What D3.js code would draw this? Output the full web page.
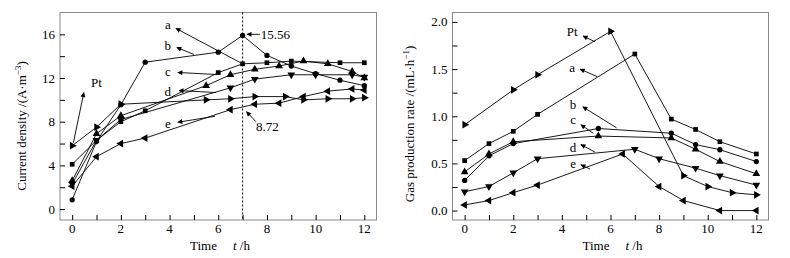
<!DOCTYPE html>
<html>
<head>
<meta charset="utf-8">
<script src="https://cdn.jsdelivr.net/npm/d3@7"></script>
<style>
  body { margin: 0; background: #fff; }
  svg text { font-family: "Liberation Serif", "Times New Roman", Times, serif; font-size: 13px; fill: #000; }
</style>
</head>
<body>
<div id="chart"></div>
<script>
// ---- data: [time (h), value] ----
// current density, A·m-3 (left panel)
const cdPt = [[0,5.8],[1,7.5],[2,9.6],[5.5,10.0],[6.5,10.1],[7.5,10.3],[8.75,10.3],[9.5,10.0],[10.5,10.1],[11.5,10.1],[12,10.2]];
const cdA  = [[0,4.1],[1,6.3],[2,8.0],[3,9.0],[6,12.5],[7,13.3],[8,13.4],[9,13.55],[11,13.4],[12,13.4]];
const cdB  = [[0,0.85],[1,6.2],[2,9.56],[3,13.45],[6,14.37],[7,15.9],[8,14.07],[9,13.1],[10,12.4],[11,11.8],[12,11.3]];
const cdC  = [[0,2.6],[1,6.9],[2,8.55],[5.5,11.3],[6.5,12.3],[7.5,12.8],[8.5,13.1],[9.5,13.55],[10.5,13.3],[11.5,12.6],[12,12.0]];
const cdD  = [[0,2.3],[1,6.3],[2,8.2],[6.5,11.1],[7.5,11.9],[9,12.3],[10,12.3],[11.5,12.3],[12,12.1]];
const cdE  = [[0,2.1],[1,4.8],[2,6.0],[3,6.5],[6.5,9.1],[7.5,9.6],[8.5,9.7],[9.5,10.3],[10.5,10.8],[11.5,11.0],[12,10.9]];

// gas production rate, mL·h-1 (right panel)
const gpPt = [[0,0.91],[2,1.28],[3,1.44],[6,1.9],[9,0.37],[10,0.255],[11,0.19],[12,0.167]];
const gpA  = [[0,0.53],[1,0.71],[2,0.84],[3,1.02],[7,1.66],[8.5,0.97],[9.5,0.86],[10.5,0.73],[12,0.60]];
const gpB  = [[0,0.32],[1,0.58],[2,0.71],[5.5,0.87],[8.5,0.82],[9.5,0.70],[10.5,0.645],[12,0.52]];
const gpC  = [[0,0.41],[1,0.60],[2,0.73],[5.5,0.79],[8.5,0.77],[9.5,0.65],[10.5,0.52],[12,0.39]];
const gpD  = [[0,0.20],[1,0.255],[2,0.40],[3,0.55],[7,0.65],[8,0.55],[9.5,0.45],[10.5,0.37],[12,0.27]];
const gpE  = [[0,0.06],[1,0.106],[2,0.19],[3,0.27],[6.5,0.60],[8,0.255],[9,0.106],[10.5,0.0],[12,0.0]];

const xTicks = [0, 2, 4, 6, 8, 10, 12];
const cdTicks = [0, 4, 8, 12, 16];
const gpTicks = [0, 0.5, 1.0, 1.5, 2.0];

// marker shape per series
const shapes = {
    Pt: {type: d3.symbolTriangle, rot: 90},
    a:  {type: d3.symbolSquare, rot: 0},
    b:  {type: d3.symbolCircle, rot: 0},
    c:  {type: d3.symbolTriangle, rot: 0},
    d:  {type: d3.symbolTriangle, rot: 180},
    e:  {type: d3.symbolTriangle, rot: -90}
};

const W = 790, H = 258;
const svg = d3.select('#chart').append('svg')
    .attr('width', W).attr('height', H);

// arrow head used by the annotation pointers
svg.append('defs').append('marker')
    .attr('id', 'head')
    .attr('viewBox', '0 0 10 10')
    .attr('refX', 9).attr('refY', 5)
    .attr('markerWidth', 7).attr('markerHeight', 5)
    .attr('markerUnits', 'userSpaceOnUse')
    .attr('orient', 'auto')
    .append('path')
    .attr('d', 'M0,0 L10,5 L0,10 Z')
    .attr('fill', '#000');

function panel(cfg){
    const x = d3.scaleLinear().domain([-0.5, 12.5]).range(cfg.xRange);
    const y = d3.scaleLinear().domain(cfg.yDomain).range([220, 12.5]);
    const g = svg.append('g');

    // frame
    g.append('rect')
        .attr('x', cfg.xRange[0]).attr('y', 12.5)
        .attr('width', cfg.xRange[1] - cfg.xRange[0]).attr('height', 207.5)
        .attr('fill', 'none').attr('stroke', '#8a8a8a').attr('stroke-width', 1);

    // x axis, ticks pointing inward
    const xAxis = g.append('g').attr('transform', 'translate(0,220)');
    xAxis.call(d3.axisBottom(x).tickValues(d3.range(0, 13, 1)).tickSize(-5).tickFormat(''))
        .call(a => a.select('.domain').remove())
        .call(a => a.selectAll('line').attr('stroke', '#000'));
    xAxis.selectAll('text.lab').data(xTicks).join('text')
        .attr('class', 'lab')
        .attr('x', d => x(d)).attr('y', 13)
        .attr('text-anchor', 'middle')
        .text(d => d);

    // y axis
    const yAxis = g.append('g').attr('transform', `translate(${cfg.xRange[0]},0)`);
    yAxis.call(d3.axisLeft(y).tickValues(cfg.yMinor).tickSize(-5).tickFormat(''))
        .call(a => a.select('.domain').remove())
        .call(a => a.selectAll('line').attr('stroke', '#000'));
    yAxis.selectAll('text.lab').data(cfg.yTicks).join('text')
        .attr('class', 'lab')
        .attr('x', -5).attr('y', d => y(d)).attr('dy', '0.35em')
        .attr('text-anchor', 'end')
        .text(cfg.yFormat);

    // axis titles
    const xt = g.append('text')
        .attr('x', cfg.xRange[0] + 130).attr('y', 250);
    xt.append('tspan').text('Time');
    xt.append('tspan').attr('dx', 16).attr('font-style', 'italic').text('t');
    xt.append('tspan').text(' /h');

    const yt = g.append('text')
        .attr('transform', `translate(${cfg.yTitleX},${cfg.yTitleY}) rotate(-90)`)
        .attr('text-anchor', 'middle');
    yt.append('tspan').text(cfg.yTitle[0]);
    yt.append('tspan').attr('font-size', 9).attr('dy', -5).text(cfg.yTitle[1]);
    yt.append('tspan').attr('dy', 5).text(cfg.yTitle[2]);

    // dashed guide at a given time
    if (cfg.guide !== undefined) {
        g.append('line')
            .attr('x1', x(cfg.guide)).attr('x2', x(cfg.guide))
            .attr('y1', 12.5).attr('y2', 220)
            .attr('stroke', '#000').attr('stroke-dasharray', '2,2');
    }

    const line = d3.line().x(d => x(d[0])).y(d => y(d[1]));

    cfg.series.forEach(s => {
        g.append('path')
            .datum(s.values)
            .attr('d', line)
            .attr('fill', 'none').attr('stroke', '#000').attr('stroke-width', 0.9);

        const sh = shapes[s.key];
        g.selectAll(null).data(s.values).join('path')
            .attr('d', d3.symbol().type(sh.type).size(sh.type === d3.symbolTriangle ? 26 : 22))
            .attr('transform', d => `translate(${x(d[0])},${y(d[1])}) rotate(${sh.rot})`)
            .attr('fill', '#000');
    });

    // annotations: label + pointer from the curve towards the label
    cfg.notes.forEach(n => {
        g.append('line')
            .attr('x1', x(n.tail[0])).attr('y1', y(n.tail[1]))
            .attr('x2', x(n.head[0])).attr('y2', y(n.head[1]))
            .attr('stroke', '#000').attr('stroke-width', 0.9)
            .attr('marker-end', 'url(#head)');
        g.append('text')
            .attr('x', x(n.at[0])).attr('y', y(n.at[1])).attr('dy', '0.35em')
            .attr('text-anchor', n.anchor || 'middle')
            .text(n.text);
    });
}

panel({
    xRange: [60, 376.5],
    yDomain: [-1, 18],
    yTicks: cdTicks,
    yMinor: d3.range(0, 17, 2),
    yFormat: d => d,
    yTitle: ['Current density /(A·m', '−3', ')'],
    yTitleX: 26, yTitleY: 126,
    guide: 7,
    series: [
        {key: 'Pt', values: cdPt}, {key: 'a', values: cdA}, {key: 'b', values: cdB},
        {key: 'c', values: cdC}, {key: 'd', values: cdD}, {key: 'e', values: cdE}
    ],
    notes: [
        {text: 'a',  at: [3.93, 16.92], head: [4.26, 16.55], tail: [7, 13.3]},
        {text: 'b',  at: [3.93, 14.99], head: [4.30, 14.8],  tail: [5.0, 14.16]},
        {text: 'c',  at: [3.93, 12.6],  head: [4.34, 12.51], tail: [5.95, 12.32]},
        {text: 'd',  at: [3.93, 10.76], head: [4.39, 10.85], tail: [5.91, 10.67]},
        {text: 'e',  at: [3.93, 7.82],  head: [4.34, 7.95],  tail: [5.87, 8.5]},
        {text: 'Pt', at: [1.0, 11.59],  head: [0.48, 10.67], tail: [0.05, 6.07]},
        {text: '15.56', at: [7.75, 16.0], head: [7.18, 16.0], tail: [7.71, 16.0], anchor: 'start'},
        {text: '8.72',  at: [7.55, 7.54], head: [7.16, 8.92], tail: [7.55, 8.0], anchor: 'start'}
    ]
});

panel({
    xRange: [452.5, 768.5],
    yDomain: [-0.1, 2.1],
    yTicks: gpTicks,
    yMinor: d3.range(0, 2.01, 0.25),
    yFormat: d => d.toFixed(1),
    yTitle: ['Gas production rate /(mL·h', '−1', ')'],
    yTitleX: 414, yTitleY: 124,
    series: [
        {key: 'Pt', values: gpPt}, {key: 'a', values: gpA}, {key: 'b', values: gpB},
        {key: 'c', values: gpC}, {key: 'd', values: gpD}, {key: 'e', values: gpE}
    ],
    notes: [
        {text: 'Pt', at: [4.42, 1.90],  head: [4.87, 1.85],  tail: [5.36, 1.79]},
        {text: 'a',  at: [4.42, 1.52],  head: [4.75, 1.50],  tail: [5.45, 1.42]},
        {text: 'b',  at: [4.46, 1.12],  head: [4.86, 1.10],  tail: [6.25, 0.877]},
        {text: 'c',  at: [4.46, 0.965], head: [4.78, 0.91],  tail: [5.29, 0.82]},
        {text: 'd',  at: [4.46, 0.664], head: [4.78, 0.70],  tail: [5.36, 0.62]},
        {text: 'e',  at: [4.46, 0.504], head: [4.78, 0.486], tail: [5.16, 0.44]}
    ]
});
</script>
</body>
</html>
